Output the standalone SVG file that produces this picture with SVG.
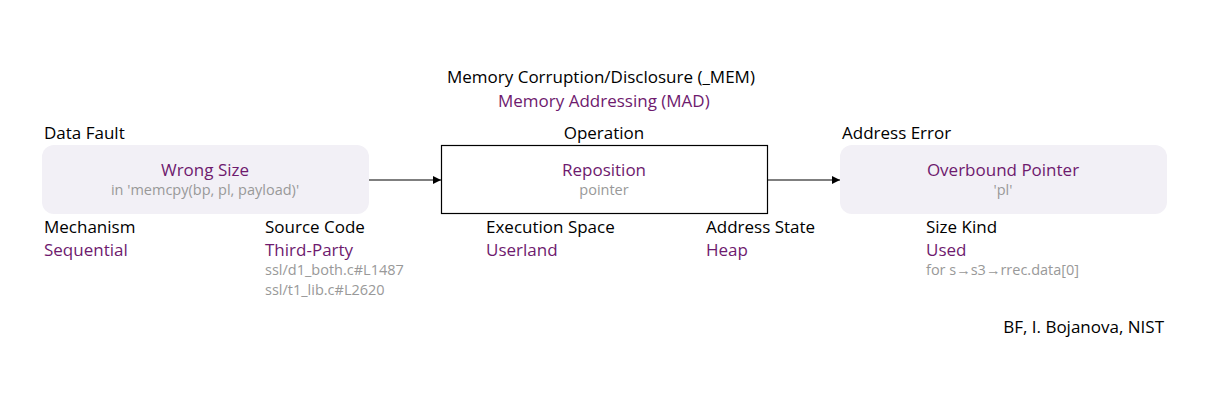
<svg xmlns="http://www.w3.org/2000/svg" width="1207" height="400" viewBox="0 0 1207 400">
<defs>
<marker id="arr" viewBox="0 0 10 10" refX="10" refY="5" markerWidth="8" markerHeight="8" markerUnits="userSpaceOnUse" orient="auto"><path d="M0,0 L10,5 L0,10 z" fill="#000"/></marker>
<style>
text{font-family:"Open Sans","Liberation Sans",Arial,sans-serif;}
.lbl{font-size:17px;fill:#000;}
.val{font-size:17px;fill:#6e1a6e;}
.sub{font-size:14.5px;fill:#999;}
.soft{fill:#f2f0f6;stroke:none;}
.op{fill:#fff;stroke:#000;stroke-width:1.2;}
.c{text-anchor:middle;}
</style>
</defs>
<rect width="1207" height="400" fill="#fff"/>
<g id="header">
<text class="lbl" x="447" y="83">Memory Corruption/Disclosure (_MEM)</text>
<text class="val" x="498" y="107">Memory Addressing (MAD)</text>
</g>
<g id="data-fault">
<text class="lbl" x="44" y="139">Data Fault</text>
<rect class="soft" x="42" y="145" width="327" height="69" rx="12"/>
<text class="val c" x="205" y="176">Wrong Size</text>
<text class="sub c" x="205" y="195">in 'memcpy(bp, pl, payload)'</text>
<text class="lbl" x="44" y="233">Mechanism</text>
<text class="val" x="44" y="256">Sequential</text>
<text class="lbl" x="265" y="233">Source Code</text>
<text class="val" x="265" y="256">Third-Party</text>
<text class="sub" x="265" y="275">ssl/d1_both.c#L1487</text>
<text class="sub" x="265" y="295">ssl/t1_lib.c#L2620</text>
</g>
<g id="operation">
<text class="lbl c" x="604" y="139">Operation</text>
<rect class="op" x="441.5" y="145.5" width="326" height="68"/>
<text class="val c" x="604" y="176">Reposition</text>
<text class="sub c" x="604" y="195">pointer</text>
<text class="lbl" x="486" y="233">Execution Space</text>
<text class="val" x="486" y="256">Userland</text>
<text class="lbl" x="706" y="233">Address State</text>
<text class="val" x="706" y="256">Heap</text>
</g>
<g id="address-error">
<text class="lbl" x="842" y="139">Address Error</text>
<rect class="soft" x="840" y="145" width="327" height="69" rx="12"/>
<text class="val c" x="1003" y="176">Overbound Pointer</text>
<text class="sub c" x="1003" y="195">'pl'</text>
<text class="lbl" x="926" y="233">Size Kind</text>
<text class="val" x="926" y="256">Used</text>
<text class="sub" x="926" y="275">for  s→s3→rrec.data[0]</text>
</g>
<g id="connectors" stroke="#000" stroke-width="1.2" fill="none">
<line x1="369" y1="180" x2="441" y2="180" marker-end="url(#arr)"/>
<line x1="768" y1="180" x2="840" y2="180" marker-end="url(#arr)"/>
</g>
<g id="credit">
<text class="lbl" x="1164" y="333" text-anchor="end">BF, I. Bojanova, NIST</text>
</g>
</svg>
